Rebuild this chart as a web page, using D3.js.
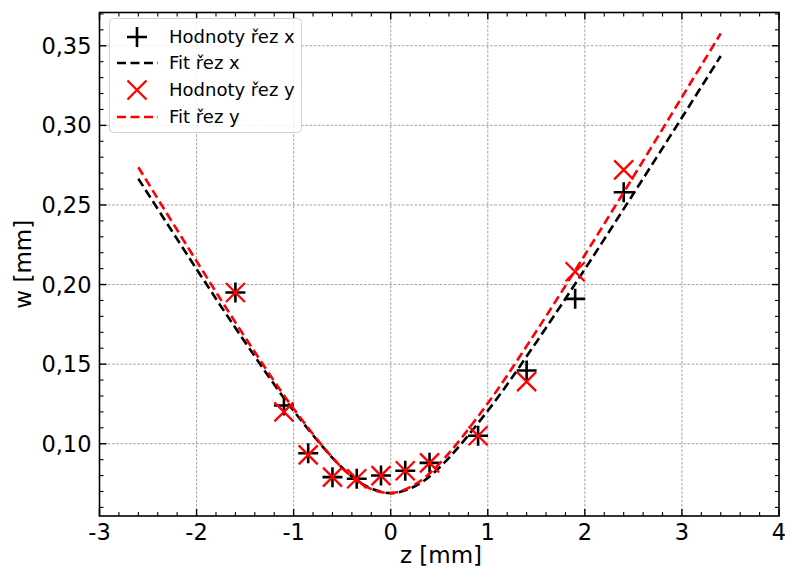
<!DOCTYPE html>
<html>
<head>
<meta charset="utf-8">
<script src="https://cdn.jsdelivr.net/npm/d3@7"></script>
<style>
  html, body { margin: 0; padding: 0; background: #fff; }
  svg { display: block; font-family: "DejaVu Sans", sans-serif; }
</style>
</head>
<body>
<svg id="chart" width="785" height="574"></svg>
<script>
// Measured beam radius w along z (cut in x and cut in y)
const zMeasured = [-1.6, -1.1, -0.85, -0.6, -0.35, -0.1, 0.15, 0.4, 0.9, 1.4, 1.9, 2.4];
const wCutX = [0.195, 0.124, 0.094, 0.079, 0.078, 0.080, 0.083, 0.088, 0.105, 0.146, 0.191, 0.258];
const wCutY = [0.195, 0.120, 0.093, 0.079, 0.078, 0.080, 0.083, 0.088, 0.105, 0.139, 0.208, 0.272];

// Fitted curves, sampled along z
const zFit = [-2.6, -2.0, -1.5, -1.0, -0.5, -0.25, 0, 0.25, 0.5, 1.0, 1.5, 2.0, 2.5, 3.0, 3.4];
const wFitX = [0.2665, 0.2097, 0.1638, 0.1207, 0.0849, 0.0733, 0.0690, 0.0733, 0.0849, 0.1207, 0.1638, 0.2097, 0.2570, 0.3049, 0.3436];
const wFitY = [0.2737, 0.2147, 0.1669, 0.1220, 0.0848, 0.0729, 0.0690, 0.0744, 0.0873, 0.1254, 0.1707, 0.2186, 0.2678, 0.3177, 0.3578];

const xTicks = [-3, -2, -1, 0, 1, 2, 3, 4];
const yTicks = [0.10, 0.15, 0.20, 0.25, 0.30, 0.35];

const legendLabels = ["Hodnoty řez x", "Fit řez x", "Hodnoty řez y", "Fit řez y"];

const svg = d3.select("#chart");
const L = 99.5, R = 779, T = 12.5, B = 516;

const x = d3.scaleLinear().domain([-3, 4]).range([L, R]);
const y = d3.scaleLinear().domain([0.0546, 0.3709]).range([B, T]);

const fmtY = v => d3.format(".2f")(v).replace(".", ",");
const fmtX = v => String(v);

// grid
const grid = svg.append("g");
grid.selectAll("line.gx").data(xTicks.filter(t => t > -3 && t < 4)).join("line")
  .attr("x1", d => x(d)).attr("x2", d => x(d)).attr("y1", T).attr("y2", B)
  .attr("stroke", "#8a8a8a").attr("stroke-width", 0.8).attr("stroke-dasharray", "2.6,1.6");
grid.selectAll("line.gy").data(yTicks).join("line")
  .attr("y1", d => y(d)).attr("y2", d => y(d)).attr("x1", L).attr("x2", R)
  .attr("stroke", "#8a8a8a").attr("stroke-width", 0.8).attr("stroke-dasharray", "2.6,1.6");

svg.append("clipPath").attr("id", "plotclip")
  .append("rect").attr("x", L).attr("y", T).attr("width", R - L).attr("height", B - T);

const plot = svg.append("g").attr("clip-path", "url(#plotclip)");

const line = (zs, ws) => d3.line().curve(d3.curveCatmullRom.alpha(0.5))
  .x((d, i) => x(zs[i])).y(d => y(d))(ws);

function plus(g, cx, cy, s, color, w) {
  g.append("path").attr("d", `M${cx - s},${cy}H${cx + s}M${cx},${cy - s}V${cy + s}`)
    .attr("stroke", color).attr("stroke-width", w).attr("fill", "none");
}
function cross(g, cx, cy, s, color, w) {
  g.append("path").attr("d", `M${cx - s},${cy - s}L${cx + s},${cy + s}M${cx - s},${cy + s}L${cx + s},${cy - s}`)
    .attr("stroke", color).attr("stroke-width", w).attr("fill", "none");
}

// series: cut x
zMeasured.forEach((z, i) => plus(plot, x(z), y(wCutX[i]), 10, "#000", 2.6));
plot.append("path").attr("d", line(zFit, wFitX))
  .attr("fill", "none").attr("stroke", "#000").attr("stroke-width", 2.6).attr("stroke-dasharray", "9,4.5");

// series: cut y
zMeasured.forEach((z, i) => cross(plot, x(z), y(wCutY[i]), 9.5, "#ff0000", 2.3));
plot.append("path").attr("d", line(zFit, wFitY))
  .attr("fill", "none").attr("stroke", "#ff0000").attr("stroke-width", 2.6).attr("stroke-dasharray", "9,4.5");

// ticks (inside, on all four sides)
const ax = svg.append("g").attr("stroke", "#000");
const xMinor = d3.range(-3, 4.0001, 0.2).map(v => +v.toFixed(2));
const yMinor = d3.range(0.06, 0.3701, 0.01).map(v => +v.toFixed(3));
xMinor.forEach(v => {
  const major = xTicks.some(t => Math.abs(t - v) < 1e-6);
  const len = major ? 7 : 4;
  ax.append("line").attr("x1", x(v)).attr("x2", x(v)).attr("y1", B).attr("y2", B - len).attr("stroke-width", major ? 1.4 : 1.1);
  ax.append("line").attr("x1", x(v)).attr("x2", x(v)).attr("y1", T).attr("y2", T + len).attr("stroke-width", major ? 1.4 : 1.1);
});
yMinor.forEach(v => {
  const major = yTicks.some(t => Math.abs(t - v) < 1e-6);
  const len = major ? 7 : 4;
  ax.append("line").attr("y1", y(v)).attr("y2", y(v)).attr("x1", L).attr("x2", L + len).attr("stroke-width", major ? 1.4 : 1.1);
  ax.append("line").attr("y1", y(v)).attr("y2", y(v)).attr("x1", R).attr("x2", R - len).attr("stroke-width", major ? 1.4 : 1.1);
});

svg.append("rect").attr("x", L).attr("y", T).attr("width", R - L).attr("height", B - T)
  .attr("fill", "none").attr("stroke", "#000").attr("stroke-width", 1.6);

// tick labels
svg.append("g").selectAll("text").data(xTicks).join("text")
  .attr("x", d => x(d)).attr("y", 540).attr("text-anchor", "middle")
  .attr("font-size", 22.5).attr("fill", "#000").text(fmtX);
svg.append("g").selectAll("text").data(yTicks).join("text")
  .attr("x", L - 8).attr("y", d => y(d)).attr("dy", "0.36em").attr("text-anchor", "end")
  .attr("font-size", 22.5).attr("fill", "#000").text(fmtY);

// axis titles
svg.append("text").attr("x", 441).attr("y", 562.5).attr("text-anchor", "middle")
  .attr("font-size", 23).text("z [mm]");
svg.append("text").attr("transform", `translate(30.5,${(T + B) / 2}) rotate(-90)`)
  .attr("text-anchor", "middle").attr("font-size", 23).text("w [mm]");

// legend
const lg = svg.append("g");
lg.append("rect").attr("x", 109.5).attr("y", 18.5).attr("width", 192).attr("height", 114)
  .attr("rx", 4).attr("fill", "#fff").attr("fill-opacity", 0.85).attr("stroke", "#d0d0d0").attr("stroke-width", 1);
const rows = [37, 63, 90, 117];
plus(lg, 137, rows[0], 10, "#000", 2.6);
lg.append("line").attr("x1", 117).attr("x2", 158).attr("y1", rows[1]).attr("y2", rows[1])
  .attr("stroke", "#000").attr("stroke-width", 2.6).attr("stroke-dasharray", "9,4.5");
cross(lg, 137, rows[2], 9.5, "#ff0000", 2.3);
lg.append("line").attr("x1", 117).attr("x2", 158).attr("y1", rows[3]).attr("y2", rows[3])
  .attr("stroke", "#ff0000").attr("stroke-width", 2.6).attr("stroke-dasharray", "9,4.5");
lg.selectAll("text.l").data(legendLabels).join("text")
  .attr("x", 169).attr("y", (d, i) => rows[i]).attr("dy", "0.36em")
  .attr("font-size", 18).attr("fill", "#000").text(d => d);
</script>
</body>
</html>
